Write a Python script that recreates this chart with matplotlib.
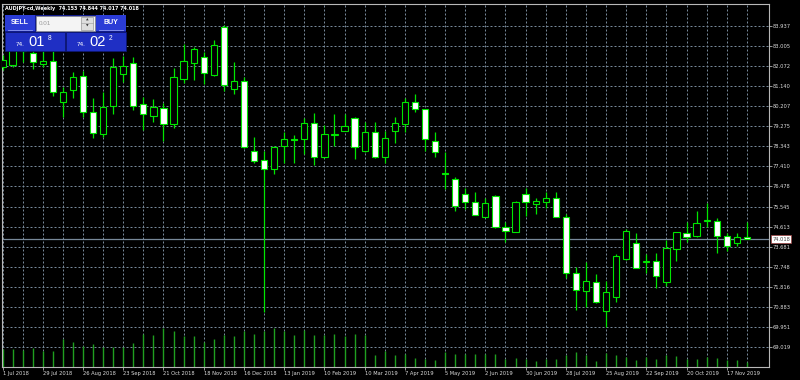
''' AUDJPY weekly candles, MT4 "green on black" look
'''
import numpy as np
import matplotlib
matplotlib.use('Agg')
import matplotlib.pyplot as plt
from matplotlib.patches import Rectangle

''' data (read off the screenshot)
'''
symbol = 'AUDJPY-cd,Weekly'
opens = [82.013, 82.106, 83.033, 82.648, 82.152, 82.291, 80.404, 80.947, 81.610, 79.941,
         78.907, 80.205, 81.689, 82.212, 80.298, 79.755, 80.126, 79.371, 81.443, 82.185,
         82.491, 81.642, 83.881, 80.993, 81.364, 78.119, 77.702, 77.270, 78.351, 78.638,
         78.661, 79.403, 77.827, 78.879, 79.046, 79.635, 78.119, 79.014, 77.827, 79.060,
         79.371, 80.377, 80.066, 78.582, 77.099, 76.821, 76.125, 75.768, 75.073, 76.047,
         74.609, 74.378, 76.112, 75.662, 75.741, 75.926, 75.045, 72.449, 71.628, 72.060,
         70.715, 71.336, 73.098, 73.868, 72.950, 73.019, 72.060, 73.576, 74.303, 74.178,
         74.874, 74.888, 74.178, 73.840, 74.153]
highs = [82.569, 83.265, 83.172, 82.801, 82.755, 82.755, 81.100, 81.767, 81.828, 80.590,
         80.840, 82.416, 82.537, 82.491, 80.636, 80.530, 80.330, 81.981, 83.065, 82.954,
         82.695, 83.265, 83.960, 82.259, 81.563, 78.754, 78.119, 78.351, 79.014, 78.861,
         79.635, 79.867, 79.324, 79.834, 79.834, 79.672, 79.449, 79.449, 79.046, 79.681,
         80.562, 80.761, 80.089, 78.986, 78.086, 76.927, 76.390, 76.204, 75.954, 76.079,
         74.813, 75.800, 76.390, 75.954, 76.232, 76.232, 75.184, 72.727, 72.959, 72.403,
         72.106, 73.330, 74.489, 74.331, 73.344, 73.404, 73.993, 74.364, 74.841, 75.337,
         75.694, 74.999, 74.303, 74.331, 74.844]
lows = [81.874, 82.013, 82.245, 81.906, 82.027, 80.669, 79.709, 80.590, 79.709, 78.735,
        78.782, 79.820, 81.332, 80.020, 79.092, 79.477, 78.582, 79.171, 81.257, 81.410,
        81.225, 81.619, 80.900, 80.747, 78.258, 77.576, 70.669, 77.039, 77.549, 77.549,
        77.966, 77.470, 77.795, 78.365, 79.023, 77.748, 78.087, 77.795, 77.549, 78.504,
        78.986, 79.941, 78.119, 77.855, 76.357, 75.351, 75.430, 75.129, 75.059, 74.535,
        73.886, 74.364, 75.119, 75.198, 75.462, 75.050, 72.217, 70.748, 70.901, 71.082,
        69.973, 71.105, 73.075, 72.686, 72.477, 71.781, 71.874, 73.019, 73.914, 74.146,
        74.582, 73.376, 73.497, 73.729, 74.017]
closes = [82.338, 83.079, 82.755, 82.231, 82.305, 80.868, 80.840, 81.536, 79.941, 78.939,
          80.173, 82.027, 82.073, 80.205, 79.834, 80.145, 79.357, 81.536, 82.291, 82.848,
          81.721, 83.033, 81.179, 81.378, 78.290, 77.669, 77.270, 78.318, 78.675, 78.620,
          79.403, 77.827, 78.893, 78.907, 79.292, 78.290, 79.014, 77.827, 78.708, 79.403,
          80.377, 80.052, 78.661, 78.059, 77.071, 75.583, 75.741, 75.152, 75.722, 74.582,
          74.424, 75.768, 75.741, 75.801, 75.926, 75.073, 72.477, 71.675, 72.106, 71.105,
          71.596, 73.265, 74.410, 72.709, 73.019, 72.338, 73.636, 74.350, 74.118, 74.795,
          74.901, 74.192, 73.729, 74.118, 74.018]
volumes = [180, 177, 167, 187, 160, 163, 277, 253, 213, 227,
           200, 203, 203, 237, 333, 317, 390, 363, 313, 310,
           250, 283, 320, 313, 357, 327, 357, 390, 360, 320,
           373, 317, 317, 333, 313, 327, 317, 120, 160, 120,
           127, 93, 77, 67, 150, 133, 133, 127, 133, 127,
           83, 90, 83, 60, 83, 83, 117, 150, 117, 60,
           143, 117, 100, 67, 100, 77, 123, 107, 77, 83,
           100, 90, 67, 73, 50]
date_labels = ['1 Jul 2018', '29 Jul 2018', '26 Aug 2018', '23 Sep 2018', '21 Oct 2018',
               '18 Nov 2018', '16 Dec 2018', '13 Jan 2019', '10 Feb 2019', '10 Mar 2019',
               '7 Apr 2019', '5 May 2019', '2 Jun 2019', '30 Jun 2019', '28 Jul 2019',
               '25 Aug 2019', '22 Sep 2019', '20 Oct 2019', '17 Nov 2019']
price_labels = [83.937, 83.005, 82.072, 81.140, 80.207, 79.275, 78.343, 77.410, 76.478,
                75.545, 74.613, 73.681, 72.748, 71.816, 70.883, 69.951, 69.019]
last_price = 74.018
lot = '0.01'
bid_parts = ('74.', '01', '8')
ask_parts = ('74.', '02', '2')

''' style
'''
W, H = 800, 380
BG = '#000000'
GREEN = '#00e600'
VOLGREEN = '#1f9f1f'
GRID = '#778899'
TXT = '#dcdcdc'
FS = 3.7
vol_axis_max = 3635.0


def draw_candles(ax, x):
  bw = 0.62
  for i in range(len(x)):
    o, h, l, c = opens[i], highs[i], lows[i], closes[i]
    ax.vlines(x[i], l, h, color=GREEN, lw=0.9, zorder=3)
    bot = min(o, c)
    ht = max(abs(c - o), 0.04)
    fc = BG if c >= o else '#ffffff'
    ax.add_patch(Rectangle((x[i] - bw/2, bot), bw, ht, facecolor=fc,
                           edgecolor=GREEN, lw=0.8, zorder=4))


def draw_panel(fig):
  ov = fig.add_axes([0, 0, 1, 1])
  ov.set_xlim(0, W)
  ov.set_ylim(H, 0)
  ov.axis('off')
  # header line
  hdr = '{}  {:.3f} {:.3f} {:.3f} {:.3f}'.format(symbol, opens[-1], highs[-1],
                                                 lows[-1], closes[-1])
  ov.text(5, 8.5, hdr, color='white', fontsize=3.5, va='center', ha='left',
          fontweight='bold')
  # one click trading panel
  blue = '#2b3cd6'
  dblue = '#1f2fc4'
  ov.add_patch(Rectangle((5, 15), 121, 36, fc='#101a8c', ec='none', zorder=1))
  ov.add_patch(Rectangle((5, 15), 30, 16, fc=blue, ec='none', zorder=2))
  ov.add_patch(Rectangle((96, 15), 30, 16, fc=blue, ec='none', zorder=2))
  ov.plot([8, 32], [30, 30], color='#8f9af0', lw=0.6, zorder=3)
  ov.plot([99, 123], [30, 30], color='#8f9af0', lw=0.6, zorder=3)
  ov.text(20, 23, 'SELL', color='white', fontsize=5, fontweight='bold',
          ha='center', va='center', family='Liberation Sans', zorder=4)
  ov.text(111, 23, 'BUY', color='white', fontsize=5, fontweight='bold',
          ha='center', va='center', family='Liberation Sans', zorder=4)
  ov.add_patch(Rectangle((36, 15.5), 59, 15, fc='#f4f4f4', ec='#8a8a8a', lw=0.5, zorder=2))
  ov.text(39, 23.2, lot, color='#9a9a9a', fontsize=4.5, ha='left', va='center',
          family='Liberation Sans', zorder=4)
  ov.add_patch(Rectangle((81, 16.5), 12, 13, fc='#dedede', ec='#9a9a9a', lw=0.5, zorder=3))
  ov.plot([81, 93], [23, 23], color='#9a9a9a', lw=0.4, zorder=4)
  ov.text(87, 20, '\u25b2', color='#333333', fontsize=2.4, ha='center', va='center', zorder=5)
  ov.text(87, 26, '\u25bc', color='#333333', fontsize=2.4, ha='center', va='center', zorder=5)
  for x0, parts in ((5, bid_parts), (66, ask_parts)):
    ov.add_patch(Rectangle((x0, 31.5), 60, 19.5, fc=dblue, ec='#0d1670', lw=0.6, zorder=2))
    ov.text(x0 + 11, 45.5, parts[0], color='white', fontsize=4.6, ha='left',
            va='baseline', family='Liberation Sans', zorder=4)
    ov.text(x0 + 23, 45.8, parts[1], color='white', fontsize=10.5, ha='left',
            va='baseline', family='Liberation Sans', zorder=4)
    ov.text(x0 + 42.5, 40.5, parts[2], color='white', fontsize=4.8, ha='left',
            va='baseline', family='Liberation Sans', zorder=4)
  return ov


fig = plt.figure(figsize=(W/100, H/100), dpi=100, facecolor=BG)
ax = fig.add_axes([2/W, 13/H, 767/W, 363.5/H])
ax.set_facecolor(BG)

x = np.arange(len(opens))
draw_candles(ax, x)

# volumes sit on the bottom of the price window
ax.vlines(x, 0, np.array(volumes) / vol_axis_max, color=VOLGREEN, lw=1.0,
          transform=ax.get_xaxis_transform(), zorder=2)

# current price line
ax.axhline(last_price, color=GRID, lw=0.9, zorder=2.5)

ax.set_xlim(-0.05, 76.2)
ax.set_ylim(68.105, 84.957)

major = np.arange(0, 4 * len(date_labels), 4)
ax.set_xticks(major)
ax.set_xticklabels(date_labels)
ax.set_xticks(np.arange(2, 77, 4), minor=True)
for lbl in ax.get_xticklabels():
  lbl.set_ha('left')
ax.yaxis.tick_right()
ax.set_yticks(price_labels)
ax.set_yticklabels(['{:.3f}'.format(v) for v in price_labels])
ax.tick_params(axis='both', which='major', colors='#b0b0b0', labelcolor=TXT,
               labelsize=FS, length=2.2, width=0.6, pad=0.4)
ax.tick_params(axis='x', which='minor', length=0)
ax.grid(True, which='both', axis='x', color=GRID, lw=0.72, linestyle=(0, (2, 2)))
ax.grid(True, which='major', axis='y', color=GRID, lw=0.72, linestyle=(0, (2, 2)))
ax.set_axisbelow(True)
for s in ax.spines.values():
  s.set_color('#b8b8b8')
  s.set_linewidth(0.8)

# price tag on the right scale
ax.text(1.004, last_price, '{:.3f}'.format(last_price), transform=ax.get_yaxis_transform(),
        ha='left', va='center', fontsize=FS, color='#404040', zorder=10, clip_on=False,
        bbox=dict(boxstyle='square,pad=0.3', fc='white', ec='#a04040', lw=0.5))

draw_panel(fig)

fig.savefig('out.png', dpi=100, facecolor=BG)
